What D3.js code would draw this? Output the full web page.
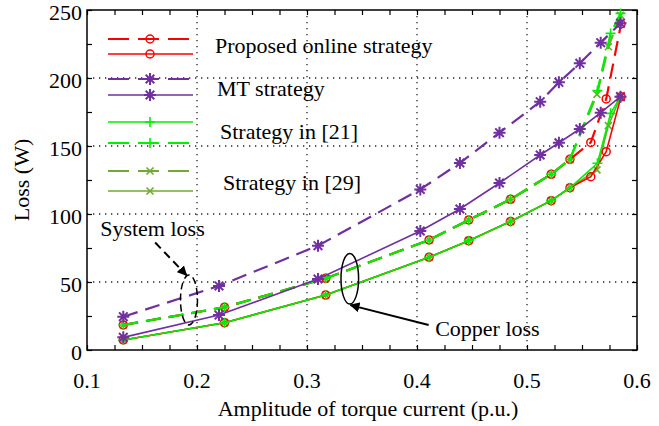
<!DOCTYPE html>
<html>
<head>
<meta charset="utf-8">
<script src="https://cdn.jsdelivr.net/npm/d3@7"></script>
<style>
  body { margin: 0; background: #fff; }
  svg text { font-family: "Liberation Serif", "Times New Roman", serif; fill: #000; }
</style>
</head>
<body>
<div id="chart"></div>
<script>
// Axis ticks
const xTicks = [0.1, 0.2, 0.3, 0.4, 0.5, 0.6];
const yTicks = [0, 50, 100, 150, 200, 250];

// Proposed online strategy
const proposedCurrent = [0.133, 0.225, 0.317, 0.411, 0.447, 0.485, 0.522, 0.539, 0.558, 0.572, 0.5855];
const proposedSystemLoss = [18.4, 31.4, 52.7, 80.9, 95.6, 110.8, 129.2, 140.2, 152.6, 184.6, 239.7];
const proposedCopperLoss = [7.4, 20.1, 40.4, 68.2, 80.4, 94.5, 109.8, 119.3, 127.4, 145.8, 186.3];

// MT strategy
const mtCurrent = [0.133, 0.22, 0.31, 0.403, 0.439, 0.475, 0.512, 0.529, 0.548, 0.567, 0.585];
const mtSystemLoss = [24.5, 47.1, 76.7, 118.1, 137.5, 159.8, 182.6, 196.8, 210.8, 226, 240.3];
const mtCopperLoss = [9.3, 25.7, 52.2, 87.5, 103.7, 122.8, 143.4, 152.4, 162.5, 174.5, 186.3];

// Strategy in [21]
const ref21Current = [0.133, 0.225, 0.317, 0.411, 0.447, 0.485, 0.522, 0.539, 0.564, 0.576, 0.585];
const ref21SystemLoss = [18.4, 31.4, 52.7, 80.9, 95.6, 110.8, 129.2, 140.2, 190.7, 232.8, 247.5];
const ref21CopperLoss = [7.4, 20.1, 40.4, 68.2, 80.4, 94.5, 109.8, 119.3, 137.3, 174, 186.3];

// Strategy in [29]
const ref29Current = [0.133, 0.225, 0.317, 0.411, 0.447, 0.485, 0.522, 0.539, 0.5636, 0.574, 0.585];
const ref29SystemLoss = [18.4, 31.4, 52.7, 80.9, 95.6, 110.8, 129.2, 140.2, 188, 223, 246];
const ref29CopperLoss = [7.4, 20.1, 40.4, 68.2, 80.4, 94.5, 109.8, 119.3, 132.4, 165, 186.3];

// Legend labels
const legendLabels = ['Proposed online strategy', 'MT strategy', 'Strategy in [21]', 'Strategy in [29]'];

const sizes = { width: 659, height: 426, left: 87, right: 637, top: 10, bottom: 350 };
const colors = { red: '#ff0000', purple: '#7030a0', green: '#00f000', olive: '#72a833' };
const dash = '15,8';
const fontSize = 22;

const zip = (xs, ys) => xs.map((x, i) => ({ x: x, y: ys[i] }));

/**
 * Series, in drawing order (olive under red under green)
 */
let series = [
  { color: colors.olive, marker: 'cross', dashed: true, points: zip(ref29Current, ref29SystemLoss) },
  { color: colors.olive, marker: 'cross', dashed: false, points: zip(ref29Current, ref29CopperLoss) },
  { color: colors.red, marker: 'circle', dashed: true, points: zip(proposedCurrent, proposedSystemLoss) },
  { color: colors.red, marker: 'circle', dashed: false, points: zip(proposedCurrent, proposedCopperLoss) },
  { color: colors.green, marker: 'plus', dashed: true, points: zip(ref21Current, ref21SystemLoss) },
  { color: colors.green, marker: 'plus', dashed: false, points: zip(ref21Current, ref21CopperLoss) },
  { color: colors.purple, marker: 'star', dashed: true, points: zip(mtCurrent, mtSystemLoss) },
  { color: colors.purple, marker: 'star', dashed: false, points: zip(mtCurrent, mtCopperLoss) },
];

let svg = d3.select('#chart').append('svg')
  .attr('width', sizes.width)
  .attr('height', sizes.height)
  .attr('font-family', '"Liberation Serif", "Times New Roman", serif');

const x = d3.scaleLinear().domain([0.1, 0.6]).range([sizes.left, sizes.right]);
const y = d3.scaleLinear().domain([0, 250]).range([sizes.bottom, sizes.top]);

// Dotted grid on the inner major ticks
svg.append('g')
  .selectAll('line')
  .data(xTicks.slice(1, -1))
  .join('line')
  .attr('x1', d => x(d)).attr('x2', d => x(d))
  .attr('y1', sizes.top).attr('y2', sizes.bottom)
  .attr('stroke', '#222').attr('stroke-width', 1.3).attr('stroke-dasharray', '1.3,4.7');
svg.append('g')
  .selectAll('line')
  .data(yTicks.slice(1, -1))
  .join('line')
  .attr('x1', sizes.left).attr('x2', sizes.right)
  .attr('y1', d => y(d)).attr('y2', d => y(d))
  .attr('stroke', '#222').attr('stroke-width', 1.3).attr('stroke-dasharray', '1.3,4.7');

/**
 * Axes: labels on bottom/left, ticks inward on all four sides
 */
const xMinor = d3.range(0.1, 0.6001, 0.025);
const yMinor = d3.range(0, 250.01, 25);
function tickAxis(axis, values) {
  return axis.tickValues(values).tickSizeInner(-5).tickSizeOuter(0).tickFormat('');
}
let axes = svg.append('g').attr('class', 'axes');
axes.append('g').attr('transform', `translate(0,${sizes.bottom})`).call(tickAxis(d3.axisBottom(x), xMinor));
axes.append('g').attr('transform', `translate(0,${sizes.top})`).call(tickAxis(d3.axisTop(x), xMinor));
axes.append('g').attr('transform', `translate(${sizes.left},0)`).call(tickAxis(d3.axisLeft(y), yMinor));
axes.append('g').attr('transform', `translate(${sizes.right},0)`).call(tickAxis(d3.axisRight(y), yMinor));
axes.selectAll('.domain').remove();
axes.selectAll('.tick line').attr('stroke', '#000').attr('stroke-width', 1.2);

svg.append('rect')
  .attr('x', sizes.left).attr('y', sizes.top)
  .attr('width', sizes.right - sizes.left).attr('height', sizes.bottom - sizes.top)
  .attr('fill', 'none').attr('stroke', '#000').attr('stroke-width', 1.5);

// Tick labels
svg.append('g')
  .selectAll('text')
  .data(xTicks)
  .join('text')
  .attr('x', d => x(d)).attr('y', sizes.bottom + 38)
  .attr('text-anchor', 'middle').attr('font-size', fontSize)
  .text(d => d.toFixed(1));
svg.append('g')
  .selectAll('text')
  .data(yTicks)
  .join('text')
  .attr('x', sizes.left - 5).attr('y', d => y(d) + 9.5)
  .attr('text-anchor', 'end').attr('font-size', fontSize)
  .text(d => d);

// Axis titles
svg.append('text')
  .attr('x', (sizes.left + sizes.right) / 2 + 6).attr('y', 416)
  .attr('text-anchor', 'middle').attr('font-size', fontSize)
  .text('Amplitude of torque current (p.u.)');
svg.append('text')
  .attr('transform', `translate(29,${(sizes.top + sizes.bottom) / 2}) rotate(-90)`)
  .attr('text-anchor', 'middle').attr('font-size', fontSize)
  .text('Loss (W)');

/**
 * Markers
 */
function markerPath(type) {
  if (type === 'plus') return 'M-5,0H5M0,-5V5';
  if (type === 'cross') return 'M-3.5,-3.5L3.5,3.5M-3.5,3.5L3.5,-3.5';
  if (type === 'star') return 'M-6,0H6M0,-6V6M-4.3,-4.3L4.3,4.3M-4.3,4.3L4.3,-4.3';
  return null;
}
function drawMarker(g, type, cx, cy, color) {
  if (type === 'circle') {
    g.append('circle')
      .attr('cx', cx).attr('cy', cy).attr('r', 4)
      .attr('fill', 'none').attr('stroke', color).attr('stroke-width', 1.5);
  } else {
    g.append('path')
      .attr('d', markerPath(type))
      .attr('transform', `translate(${cx},${cy})`)
      .attr('fill', 'none').attr('stroke', color)
      .attr('stroke-width', type === 'star' ? 2 : 1.6);
  }
}

const line = d3.line().x(d => x(d.x)).y(d => y(d.y));
let plot = svg.append('g').attr('class', 'series');
series.forEach(s => {
  plot.append('path')
    .datum(s.points)
    .attr('d', line)
    .attr('fill', 'none')
    .attr('stroke', s.color)
    .attr('stroke-width', s.dashed ? 2.2 : 1.6)
    .attr('stroke-dasharray', s.dashed ? dash : null);
  let mg = plot.append('g');
  s.points.forEach(p => drawMarker(mg, s.marker, x(p.x), y(p.y), s.color));
});

/**
 * Legend (two samples per entry, label between them)
 */
const legendRows = [
  { s: series[2], ly: 39 }, { s: series[3], ly: 54 },
  { s: series[6], ly: 79 }, { s: series[7], ly: 95 },
  { s: series[5], ly: 122 }, { s: series[4], ly: 143 },
  { s: series[0], ly: 171 }, { s: series[1], ly: 191 },
];
let legend = svg.append('g').attr('class', 'legend');
legendRows.forEach(r => {
  legend.append('line')
    .attr('x1', 108).attr('x2', 193).attr('y1', r.ly).attr('y2', r.ly)
    .attr('stroke', r.s.color)
    .attr('stroke-width', r.s.dashed ? 2.2 : 1.6)
    .attr('stroke-dasharray', r.s.dashed ? '21,9' : null);
  drawMarker(legend, r.s.marker, 150, r.ly, r.s.color);
});
const legendText = [{ tx: 215, ty: 53 }, { tx: 217, ty: 96 }, { tx: 220, ty: 139 }, { tx: 223, ty: 190 }];
legendText.forEach((t, i) => {
  legend.append('text')
    .attr('x', t.tx).attr('y', t.ty).attr('font-size', fontSize)
    .text(legendLabels[i]);
});

/**
 * Annotations: system loss and copper loss callouts
 */
let notes = svg.append('g').attr('class', 'notes');
svg.append('defs').append('marker')
  .attr('id', 'arrow').attr('viewBox', '0 0 10 10')
  .attr('refX', 9).attr('refY', 5)
  .attr('markerWidth', 5).attr('markerHeight', 5)
  .attr('markerUnits', 'strokeWidth')
  .attr('orient', 'auto')
  .append('path').attr('d', 'M0,0L10,5L0,10z').attr('fill', '#000');

notes.append('ellipse')
  .attr('cx', x(0.1927)).attr('cy', y(36.8))
  .attr('rx', 8.5).attr('ry', 25)
  .attr('fill', 'none').attr('stroke', '#000').attr('stroke-width', 1.5)
  .attr('stroke-dasharray', '7,4');
notes.append('line')
  .attr('x1', x(0.162)).attr('y1', y(79))
  .attr('x2', x(0.1905)).attr('y2', y(55))
  .attr('stroke', '#000').attr('stroke-width', 2)
  .attr('stroke-dasharray', '8,5')
  .attr('marker-end', 'url(#arrow)');
notes.append('text')
  .attr('x', x(0.112)).attr('y', y(84))
  .attr('font-size', fontSize)
  .text('System loss');

notes.append('ellipse')
  .attr('cx', x(0.3389)).attr('cy', y(52.4))
  .attr('rx', 8.8).attr('ry', 25.3)
  .attr('fill', 'none').attr('stroke', '#000').attr('stroke-width', 1.5);
notes.append('line')
  .attr('x1', x(0.4106)).attr('y1', y(18.4))
  .attr('x2', x(0.3395)).attr('y2', y(33))
  .attr('stroke', '#000').attr('stroke-width', 2)
  .attr('marker-end', 'url(#arrow)');
notes.append('text')
  .attr('x', x(0.4165)).attr('y', y(10))
  .attr('font-size', fontSize)
  .text('Copper loss');
</script>
</body>
</html>
